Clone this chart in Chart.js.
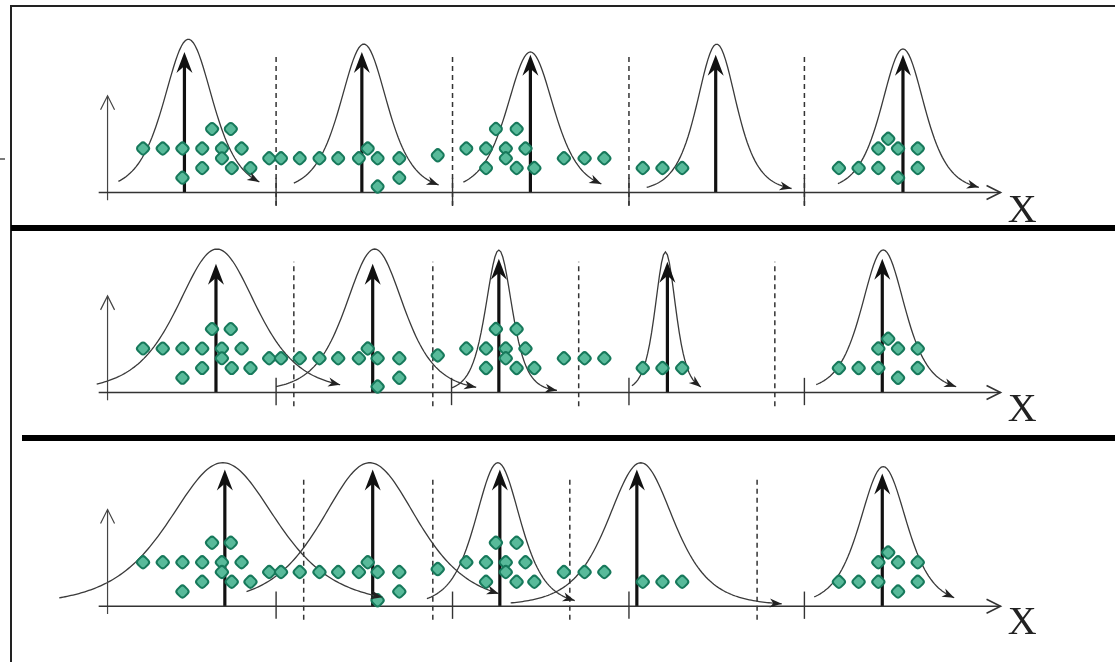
<!DOCTYPE html>
<html>
<head>
<meta charset="utf-8">
<script src="https://cdn.jsdelivr.net/npm/chart.js@4.4.1/dist/chart.umd.min.js"></script>
<style>
  html, body { margin: 0; padding: 0; background: #fff; }
  #wrap { width: 1115px; height: 662px; }
</style>
</head>
<body>
<div id="wrap"><canvas id="emChart" width="1115" height="662"></canvas></div>
<script>
// observations, the same sample is shown in the three panels
const pointX = [137, 157, 177, 197, 217, 237, 207, 226, 217, 197, 227, 246, 177,
    265, 277, 296, 316, 335, 356, 375, 397, 365, 397, 375, 436,
    465, 485, 505, 525, 495, 516, 505, 485, 516, 534,
    564, 585, 605, 644, 664, 684,
    843, 863, 883, 923, 883, 903, 923, 893, 903];
const pointLevel = [4.5, 4.5, 4.5, 4.5, 4.5, 4.5, 6.5, 6.5, 3.5, 2.5, 2.5, 2.5, 1.5,
    3.5, 3.5, 3.5, 3.5, 3.5, 3.5, 3.5, 3.5, 4.5, 1.5, 0.6, 3.8,
    4.5, 4.5, 4.5, 4.5, 6.5, 6.5, 3.5, 2.5, 2.5, 2.5,
    3.5, 3.5, 3.5, 2.5, 2.5, 2.5,
    2.5, 2.5, 2.5, 2.5, 4.5, 4.5, 4.5, 5.5, 1.5];

// one row per panel (top, middle, bottom): the five bell components
const bellMean  = [[183, 361, 530, 719, 908], [212, 372, 498, 667, 888], [218, 367, 497, 642, 888]];
const bellWidth = [[26, 25, 25, 21, 23], [42, 31, 14, 11, 23], [57, 51, 24, 35, 25]];
const bellPeak  = [[15.7, 15.2, 14.4, 15.2, 14.7], [14.7, 14.7, 14.6, 14.4, 14.6], [14.7, 14.7, 14.7, 14.7, 14.3]];
const bellFrom  = [[112, 290, 462, 648, 842], [90, 272, 450, 633, 820], [52, 242, 425, 510, 818]];
const bellTo    = [[255, 437, 602, 795, 985], [337, 475, 557, 703, 962], [380, 498, 575, 785, 960]];

// centre arrows
const meanX   = [[179, 359, 530, 718, 908], [211, 370, 498, 669, 887], [220, 370, 499, 638, 887]];
const meanTop = [[14.4, 14.4, 14.1, 14.1, 14.1], [13.2, 13.2, 13.7, 13.4, 13.7], [14.0, 14.0, 14.0, 14.0, 13.6]];

// decision boundaries (dashed) and the small marks on the axis
const boundaryX = [[272, 451, 630, 808], [290, 431, 579, 778], [300, 431, 570, 760]];
const tickX     = [[272, 451, 630, 808], [272, 450, 630, 808], [272, 451, 630, 808]];

// layout only
const PANEL_BASE = [189, 394, 613];   // where each X axis sits on the page
const DASH_TOP = [13.9, 13.4, 13.3];
const AXIS_FROM = 92, AXIS_TO = 1007, YAXIS_X = 101;

// bell shape (a heavy tailed gaussian, like the hand drawn curves)
function bell(x, mu, w, a) {
    const t = (x - mu) / w;
    return a * Math.pow(1 + t * t / 4, -2.5);
}

const datasets = [];

// points first so they are drawn on top
for (let p = 0; p < 3; p++) {
    datasets.push({
        yAxisID: 'y' + p,
        data: pointX.map((x, i) => ({ x: x, y: pointLevel[i] })),
        pointStyle: 'rectRounded',
        rotation: 45,
        pointRadius: 6,
        backgroundColor: '#58ba9a',
        borderColor: '#17795b',
        borderWidth: 2,
        showLine: false
    });
}

for (let p = 0; p < 3; p++) {
    const yid = 'y' + p;
    const lineStyle = { yAxisID: yid, showLine: true, pointRadius: 0, fill: false, tension: 0 };

    // X axis
    datasets.push(Object.assign({}, lineStyle, {
        data: [{ x: AXIS_FROM, y: 0 }, { x: AXIS_TO, y: 0 }],
        borderColor: '#333', borderWidth: 1.6, head: 'open'
    }));
    // small vertical axis
    datasets.push(Object.assign({}, lineStyle, {
        data: [{ x: YAXIS_X, y: -0.8 }, { x: YAXIS_X, y: 9.9 }],
        borderColor: '#444', borderWidth: 1.2, head: 'open'
    }));

    // dashed boundaries
    boundaryX[p].forEach(bx => {
        datasets.push(Object.assign({}, lineStyle, {
            data: [{ x: bx, y: -1.4 }, { x: bx, y: DASH_TOP[p] }],
            borderColor: '#333', borderWidth: 1.5, borderDash: [5, 4]
        }));
    });
    // solid marks
    tickX[p].forEach(tx => {
        datasets.push(Object.assign({}, lineStyle, {
            data: [{ x: tx, y: -1.3 }, { x: tx, y: 1.5 }],
            borderColor: '#333', borderWidth: 1.4
        }));
    });

    // bell curves
    for (let k = 0; k < 5; k++) {
        const pts = [];
        for (let x = bellFrom[p][k]; x < bellTo[p][k]; x += 2) {
            pts.push({ x: x, y: bell(x, bellMean[p][k], bellWidth[p][k], bellPeak[p][k]) });
        }
        const xe = bellTo[p][k];
        pts.push({ x: xe, y: bell(xe, bellMean[p][k], bellWidth[p][k], bellPeak[p][k]) });
        datasets.push(Object.assign({}, lineStyle, {
            data: pts, borderColor: '#3a3a3a', borderWidth: 1.3, head: 'small'
        }));
    }

    // centre arrows
    for (let k = 0; k < 5; k++) {
        datasets.push(Object.assign({}, lineStyle, {
            data: [{ x: meanX[p][k], y: 0 }, { x: meanX[p][k], y: meanTop[p][k] - 0.6 }],
            borderColor: '#111', borderWidth: 3.2, head: 'big', tipY: meanTop[p][k]
        }));
    }
}

// arrow heads at the end of the marked lines
const arrowHeads = {
    id: 'arrowHeads',
    afterDatasetsDraw(chart) {
        const ctx = chart.ctx;
        chart.data.datasets.forEach((ds, i) => {
            if (!ds.head) return;
            const pts = chart.getDatasetMeta(i).data;
            const b = pts[pts.length - 1];
            const a = pts[Math.max(0, pts.length - 4)];
            let tipX = b.x, tipY = b.y;
            if (ds.tipY !== undefined) tipY = chart.scales[ds.yAxisID].getPixelForValue(ds.tipY);
            const ang = Math.atan2(tipY - a.y, tipX - a.x);
            const dx = Math.cos(ang), dy = Math.sin(ang);
            const px = -dy, py = dx;
            ctx.save();
            if (ds.head === 'open') {
                const L = 14, W = 7;
                ctx.strokeStyle = ds.borderColor;
                ctx.lineWidth = ds.borderWidth;
                ctx.beginPath();
                ctx.moveTo(tipX - L * dx + W * px, tipY - L * dy + W * py);
                ctx.lineTo(tipX, tipY);
                ctx.lineTo(tipX - L * dx - W * px, tipY - L * dy - W * py);
                ctx.stroke();
            } else {
                const L = ds.head === 'big' ? 21 : 12;
                const W = ds.head === 'big' ? 8 : 4.5;
                const N = ds.head === 'big' ? 7 : 3.5;
                ctx.fillStyle = ds.head === 'big' ? '#111' : '#222';
                ctx.beginPath();
                ctx.moveTo(tipX, tipY);
                ctx.lineTo(tipX - L * dx + W * px, tipY - L * dy + W * py);
                ctx.lineTo(tipX - (L - N) * dx, tipY - (L - N) * dy);
                ctx.lineTo(tipX - L * dx - W * px, tipY - L * dy - W * py);
                ctx.closePath();
                ctx.fill();
            }
            ctx.restore();
        });
    }
};

// page frame, separators and the X labels
const framePlugin = {
    id: 'framePlugin',
    beforeDraw(chart) {
        const ctx = chart.ctx;
        ctx.save();
        ctx.fillStyle = '#fff';
        ctx.fillRect(0, 0, chart.width, chart.height);
        ctx.restore();
    },
    afterDraw(chart) {
        const ctx = chart.ctx;
        ctx.save();
        ctx.strokeStyle = '#222';
        ctx.lineWidth = 2;
        ctx.beginPath();
        ctx.moveTo(11, 662);
        ctx.lineTo(11, 6);
        ctx.lineTo(1115, 6);
        ctx.stroke();
        ctx.lineWidth = 1.2;
        ctx.beginPath();
        ctx.moveTo(0, 159);
        ctx.lineTo(5, 159);
        ctx.stroke();
        ctx.fillStyle = '#000';
        ctx.fillRect(11, 225, 1104, 6);
        ctx.fillRect(22, 435, 1093, 6);

        ctx.fillStyle = '#222';
        ctx.font = '40px "Liberation Serif", "DejaVu Serif", serif';
        ctx.textAlign = 'center';
        ctx.textBaseline = 'middle';
        const xs = chart.scales.x;
        [-1.7, -1.6, -1.6].forEach((v, p) => {
            ctx.fillText('X', xs.getPixelForValue(1029), chart.scales['y' + p].getPixelForValue(v) + 2);
        });
        ctx.restore();
    }
};

const scales = {
    x: { type: 'linear', min: 0, max: 1115, display: false }
};
PANEL_BASE.forEach((base, p) => {
    scales['y' + p] = { type: 'linear', min: (base - 662) / 10, max: base / 10, display: false };
});

new Chart(document.getElementById('emChart'), {
    type: 'scatter',
    data: { datasets: datasets },
    options: {
        responsive: false,
        animation: false,
        devicePixelRatio: 1,
        layout: { padding: 0 },
        scales: scales,
        plugins: {
            legend: { display: false },
            tooltip: { enabled: false }
        }
    },
    plugins: [arrowHeads, framePlugin]
});
</script>
</body>
</html>
